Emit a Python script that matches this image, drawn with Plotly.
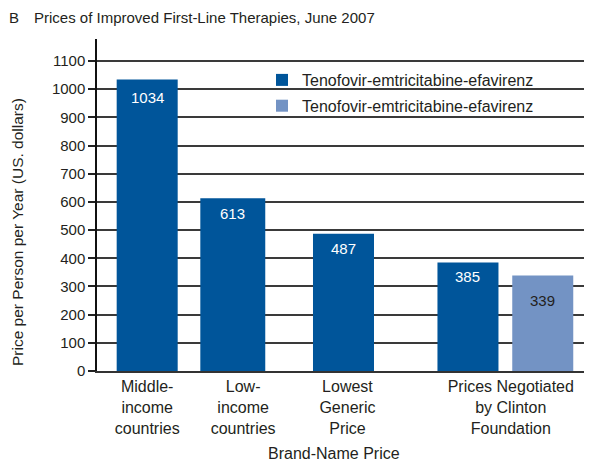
import plotly.graph_objects as go

# ---- data ----
categories = ["Middle-<br>income<br>countries", "Low-<br>income<br>countries",
              "Lowest<br>Generic<br>Price", "Prices Negotiated<br>by Clinton<br>Foundation"]
series_names = ["Tenofovir-emtricitabine-efavirenz", "Tenofovir-emtricitabine-efavirenz"]
dark_values = [1034, 613, 487, 385]
light_values = [339]
y_ticks = [0, 100, 200, 300, 400, 500, 600, 700, 800, 900, 1000, 1100]

# ---- layout constants (positions on a 0-10 x scale) ----
DARK_POS = [1.02, 2.76, 5.01, 7.54]
LIGHT_POS = [9.06]
TICK_POS = [1.02, 2.97, 5.09, 8.41]
DARK_WIDTH = [1.24, 1.32, 1.24, 1.24]
LIGHT_WIDTH = [1.24]
DARK_LABEL_SHIFT = [-17.5, -15, -14.5, -14]
LIGHT_LABEL_SHIFT = [-25]

DARK = "#00559a"
LIGHT = "#7393c4"
TXT = "#231f20"
FONT = "Liberation Sans, Arial, sans-serif"

# page body has an 8px margin; figure is sized to fit the window
W, H = 584, 454
PLOT_W = 492

fig = go.Figure()
fig.add_trace(go.Bar(x=DARK_POS, y=dark_values, width=DARK_WIDTH, name=series_names[0],
                     marker=dict(color=DARK, line=dict(width=0)), legendgroup="a",
                     hoverinfo="skip"))
fig.add_trace(go.Bar(x=LIGHT_POS, y=light_values, width=LIGHT_WIDTH, name=series_names[1],
                     marker=dict(color=LIGHT, line=dict(width=0)), legendgroup="b",
                     hoverinfo="skip"))

annotations = []
for xp, v, s in zip(DARK_POS, dark_values, DARK_LABEL_SHIFT):
    annotations.append(dict(x=xp, y=v, xref="x", yref="y", text=str(v), showarrow=False,
                            yanchor="middle", yshift=s, font=dict(size=15, color="white", family=FONT)))
for xp, v, s in zip(LIGHT_POS, light_values, LIGHT_LABEL_SHIFT):
    annotations.append(dict(x=xp, y=v, xref="x", yref="y", text=str(v), showarrow=False,
                            yanchor="middle", yshift=s, font=dict(size=15, color=TXT, family=FONT)))

# axis titles
annotations.append(dict(x=(334 - 97) / PLOT_W, y=0, xref="paper", yref="paper", yshift=-82,
                        text="Brand-Name Price", showarrow=False, xanchor="center", yanchor="middle",
                        font=dict(size=16, color=TXT, family=FONT)))
annotations.append(dict(x=0, y=(371 - 232) / 332, xref="paper", yref="paper", xshift=-80,
                        text="Price per Person per Year (US. dollars)", showarrow=False, textangle=-90,
                        xanchor="center", yanchor="middle", borderpad=0,
                        font=dict(size=15.5, color=TXT, family=FONT)))

fig.update_layout(
    width=W, height=H,
    margin=dict(l=89, r=3, t=31, b=91, autoexpand=False),
    paper_bgcolor="white", plot_bgcolor="white",
    font=dict(family=FONT, size=15, color=TXT),
    title=dict(text="B\u2003Prices of Improved First-Line Therapies, June 2007",
               x=1 / W, xanchor="left", xref="container",
               y=1 - 10 / H, yanchor="middle", yref="container",
               font=dict(size=15, color=TXT, family=FONT)),
    barmode="overlay",
    showlegend=True,
    legend=dict(x=(262 - 97) / PLOT_W, xanchor="left", y=(371 - 63) / 332, yanchor="top",
                bgcolor="rgba(0,0,0,0)", font=dict(size=16, color=TXT, family=FONT),
                traceorder="grouped", tracegroupgap=2),
    xaxis=dict(range=[0, 10], tickmode="array", tickvals=TICK_POS, ticktext=categories,
               showgrid=False, zeroline=False, showline=True, linecolor="#333333", linewidth=1.5,
               ticks="", tickfont=dict(size=16, color=TXT, family=FONT)),
    yaxis=dict(range=[0, 1178], tickmode="array", tickvals=y_ticks,
               showgrid=True, gridcolor="#3a3a3a", gridwidth=1.5, zeroline=False,
               showline=True, linecolor="#111111", linewidth=1.5,
               ticks="outside", ticklen=7, tickwidth=2, tickcolor="#222222",
               tickfont=dict(size=15, color=TXT, family=FONT)),
    annotations=annotations,
)

fig.write_html("out.html")
